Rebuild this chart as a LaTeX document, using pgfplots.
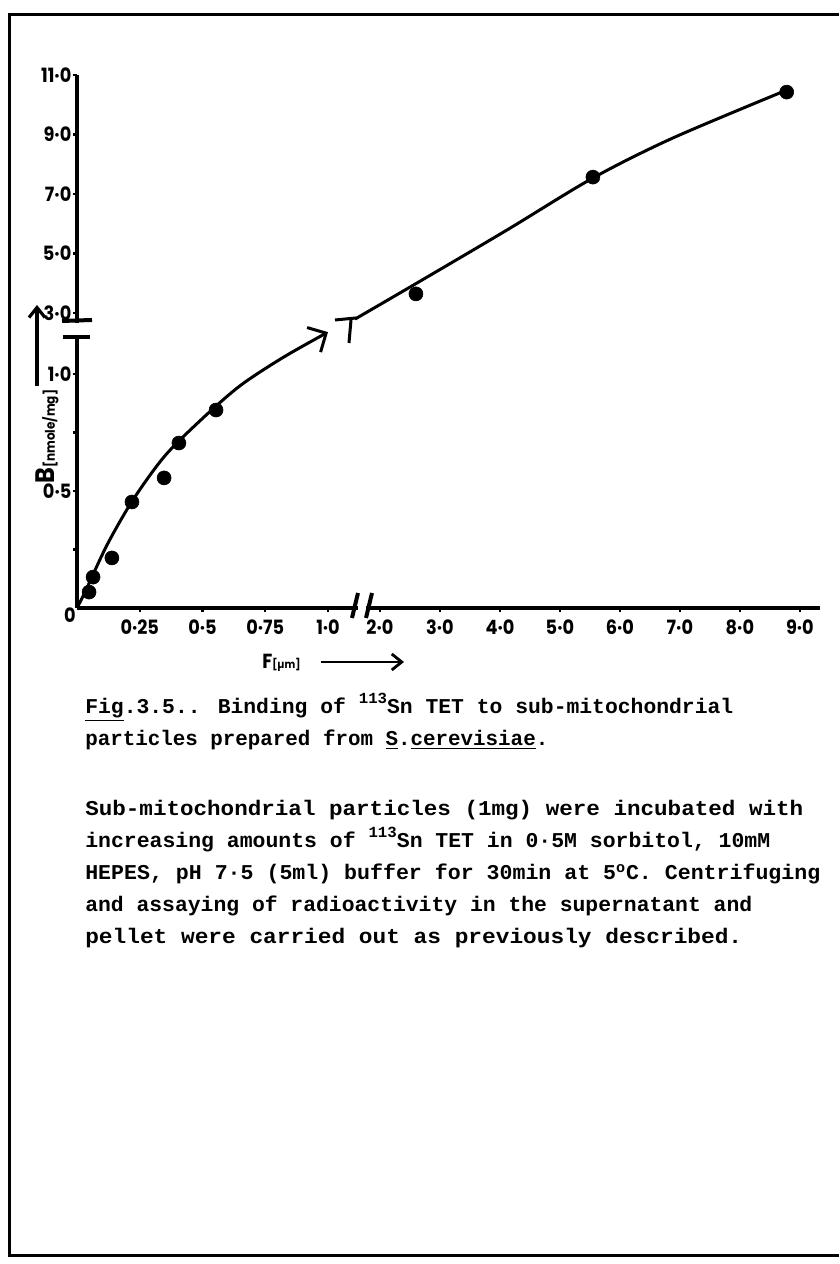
\documentclass[border=0pt]{standalone}
\usepackage{fontspec}
\usepackage{graphicx}
\usepackage{pgfplots}
\pgfplotsset{compat=1.18}
\usetikzlibrary{arrows.meta}
\newfontfamily\lab{Poppins}[FakeStretch=0.9]
\newfontfamily\tw{Liberation Mono}
\newcommand{\labfont}[1]{\fontsize{#1}{#1}\lab\bfseries}
\newcommand{\sups}[1]{\raisebox{7.5pt}{\fontsize{11}{11}\selectfont #1}}
% typed line, stretched to the width it has on the page
\newcommand{\tline}[2]{\resizebox{#1mm}{\height}{#2}}

\begin{document}
\begin{tikzpicture}
\useasboundingbox (0,0) rectangle (209.75mm,316mm);

% broken axes: both scales are compressed past the break
\begin{axis}[
  at={(19.25mm,164mm)}, anchor=south west,
  x=62.75mm, y=58.5mm,
  x coord trafo/.code={\pgfmathparse{min(#1,1.2)+0.00875*max(0,min(#1,2)-1.2)+0.239*max(0,#1-2)}},
  y coord trafo/.code={\pgfmathparse{min(#1,1.2)+0.0339*max(0,min(#1,3)-1.2)+0.127*max(0,#1-3)}},
  xmin=0, xmax=9.33, ymin=0, ymax=11,
  enlargelimits=false,
  axis lines=left,
  axis line style={-, line width=1mm},
  clip=false,
  xtick={0.25,0.5,0.75,1,2,3,4,5,6,7,8,9},
  xticklabels={0·25,0·5,0·75,1·0,2·0,3·0,4·0,5·0,6·0,7·0,8·0,9·0},
  ytick={0.25,0.5,0.75,1,3,5,7,9,11},
  yticklabels={,0·5,,1·0,3·0,5·0,7·0,9·0,11·0},
  tick align=outside,
  major tick length=1mm,
  tick style={line width=0.6mm, black},
  ticklabel style={font=\labfont{14}},
  xticklabel style={yshift=-0.6mm},
  yticklabel style={inner sep=1pt},
]
% measured points
\addplot[only marks, mark=*, mark size=1.75mm] coordinates {
  (0.048,0.068) (0.064,0.132) (0.139,0.214) (0.219,0.453) (0.347,0.556)
  (0.406,0.705) (0.554,0.846) (2.6,3.64) (5.55,7.57) (8.78,10.43)};
% hand-drawn fit, lower part
\addplot[line width=0.75mm, smooth, -{Straight Barb[length=3.5mm,width=7mm]}] coordinates {
  (0,0) (0.035,0.075) (0.12,0.27) (0.223,0.462) (0.35,0.65) (0.5,0.81)
  (0.65,0.95) (0.82,1.07) (1.0,1.179)};
% upper part
\addplot[line width=0.75mm, smooth] coordinates {
  (1.108,2.23) (2.617,4.006) (4.117,5.789) (5.55,7.54) (6.883,8.886) (8.783,10.5)};
\end{axis}

\begin{scope}[x=0.25mm, y=-0.25mm, yshift=316mm]
% page frame
\draw[line width=0.75mm] (839,15) -- (10,15) -- (10,1256) -- (839,1256);
% axis breaks
\fill[white] (70,323) rectangle (84,335);
\draw[line width=1mm] (62,321) -- (92,320);
\draw[line width=1mm] (63,337) -- (90,337);
\fill[white] (358,601) rectangle (366,615);
\draw[line width=1mm] (352,618) -- (358,593);
\draw[line width=1mm] (366,618) -- (372,593);
\draw[line width=0.75mm] (335,320) -- (356,318);
\draw[line width=0.75mm] (351,320) -- (349,343);
\node[font=\labfont{14}, inner sep=0] at (70,615) {0};
% axis titles
\node[anchor=base west, inner sep=0] at (262,669) {{\labfont{14.5}F}{\labfont{8}[µm]}};
\draw[line width=0.7mm, -{Straight Barb[length=2.5mm,width=4mm]}] (321,662) -- (404,662);
\node[anchor=base west, rotate=90, inner sep=0] at (55,484) {{\labfont{19}B}{\labfont{9.5}[nmole/mg]}};
\draw[line width=0.8mm, -{Straight Barb[length=2.5mm,width=4mm]}] (37,386) -- (37,305);
% caption
\begin{scope}[every node/.style={anchor=base west, inner sep=0, font=\fontsize{15}{15}\tw\bfseries}]
\node at (85,714) {\tline{162}{\underline{Fig}.3.5.. Binding of \sups{113}Sn TET to sub-mitochondrial}};
\node at (85,746) {\tline{115.75}{particles prepared from \underline{S}.\underline{cerevisiae}.}};
\node at (85,816) {\tline{179.5}{Sub-mitochondrial particles (1mg) were incubated with}};
\node at (85,848) {\tline{171.25}{increasing amounts of \sups{113}Sn TET in 0·5M sorbitol, 10mM}};
\node at (85,880) {\tline{183.75}{HEPES, pH 7·5 (5ml) buffer for 30min at 5\textsuperscript{o}C. Centrifuging}};
\node at (85,912) {\tline{166.75}{and assaying of radioactivity in the supernatant and}};
\node at (85,944) {\tline{164.25}{pellet were carried out as previously described.}};
\end{scope}
\end{scope}
\end{tikzpicture}
\end{document}
